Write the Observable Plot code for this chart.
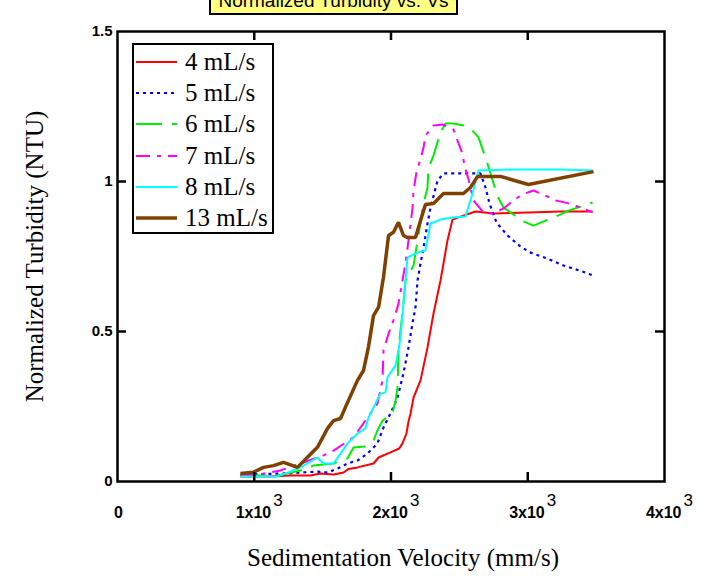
<!DOCTYPE html>
<html>
<head>
<meta charset="utf-8">
<script src="https://cdn.jsdelivr.net/npm/d3@7"></script>
<script src="https://cdn.jsdelivr.net/npm/@observablehq/plot@0.6"></script>
<style>
  html, body { margin: 0; padding: 0; background: #fff; }
  #wrap { position: relative; width: 718px; height: 585px; overflow: hidden; }
  #title { position: absolute; left: 209px; top: -9px; width: 245px; height: 22px;
    background: #ffff80; border: 2px solid #000; border-top: none;
    font: 19px "Liberation Sans", Arial, sans-serif; line-height: 19px; text-align: center; color: #000; white-space: nowrap; }
  #legend { position: absolute; left: 132px; top: 43px; width: 138px; height: 187px;
    border: 2px solid #000; background: #fff; }
  .row { position: absolute; left: 0; height: 30px; display: flex; align-items: center; }
  .row svg { margin-left: 2px; }
  .row span { margin-left: 7px; font: 25px "Liberation Serif", "Times New Roman", serif; color: #000; }
</style>
</head>
<body>
<div id="wrap">
  <div id="chart"></div>
  <div id="title">Normalized Turbidity vs. Vs</div>
  <div id="legend"></div>
</div>
<script>
const seriesNames = ["4 mL/s", "5 mL/s", "6 mL/s", "7 mL/s", "8 mL/s", "13 mL/s"];
const seriesColors = ["#ff0000", "#0000ff", "#00ee00", "#ff00ff", "#00ffff", "#804000"];
const seriesDash = [null, "3,4", "26,10", "14,7,4,7", null, null];
const seriesWidth = [2, 2.2, 2, 2, 2, 3.5];

const xTicks = [0, 1000, 2000, 3000, 4000];
const xTickBase = ["0", "1x10", "2x10", "3x10", "4x10"];
const xTickExp = ["", "3", "3", "3", "3"];
const yTicks = [0, 0.5, 1, 1.5];
const yTickLabels = ["0", "0.5", "1", "1.5"];

// [velocity mm/s, normalized turbidity]
const s4 = [[899,0.017],[1100,0.017],[1265,0.02],[1411,0.02],[1484,0.027],[1580,0.023],[1653,0.03],[1690,0.042],[1755,0.047],[1872,0.06],[1909,0.08],[1996,0.097],[2060,0.11],[2084,0.127],[2113,0.16],[2128,0.2],[2143,0.227],[2165,0.28],[2216,0.337],[2267,0.447],[2311,0.56],[2362,0.67],[2413,0.803],[2450,0.873],[2508,0.883],[2618,0.9],[2750,0.893],[3005,0.897],[3240,0.9],[3474,0.9]];
const s5 = [[899,0.023],[1243,0.027],[1462,0.033],[1536,0.03],[1609,0.043],[1682,0.06],[1755,0.07],[1828,0.093],[1901,0.127],[1945,0.18],[1996,0.227],[2048,0.28],[2091,0.36],[2128,0.447],[2157,0.527],[2179,0.58],[2194,0.67],[2216,0.727],[2238,0.78],[2267,0.86],[2289,0.913],[2340,1.003],[2384,1.027],[2654,1.027],[2691,0.98],[2720,0.927],[2772,0.863],[2852,0.82],[2947,0.783],[3020,0.763],[3144,0.743],[3261,0.72],[3400,0.7],[3474,0.687]];
const s6 = [[899,0.02],[1170,0.02],[1338,0.037],[1433,0.053],[1580,0.06],[1682,0.077],[1726,0.113],[1813,0.117],[1872,0.137],[1901,0.17],[1938,0.203],[2011,0.227],[2033,0.27],[2048,0.313],[2055,0.437],[2069,0.503],[2084,0.56],[2106,0.67],[2165,0.72],[2194,0.803],[2238,0.927],[2267,0.98],[2274,1.043],[2311,1.087],[2362,1.163],[2398,1.193],[2457,1.193],[2530,1.187],[2581,1.177],[2640,1.147],[2698,1.07],[2728,1.027],[2779,0.95],[2823,0.913],[2969,0.867],[3042,0.853],[3225,0.887],[3298,0.903],[3474,0.93]];
const s7 = [[899,0.02],[1050,0.025],[1192,0.037],[1338,0.06],[1506,0.087],[1580,0.103],[1726,0.147],[1850,0.227],[1901,0.26],[1938,0.337],[1945,0.437],[1982,0.493],[2018,0.537],[2055,0.593],[2084,0.67],[2106,0.727],[2128,0.803],[2157,0.91],[2165,0.97],[2186,1.03],[2223,1.087],[2238,1.113],[2252,1.153],[2311,1.187],[2377,1.19],[2457,1.173],[2494,1.127],[2523,1.093],[2537,1.053],[2567,1.007],[2603,0.937],[2676,0.897],[2742,0.893],[2823,0.91],[2896,0.937],[2962,0.957],[3042,0.97],[3144,0.95],[3203,0.937],[3298,0.927],[3408,0.91],[3474,0.897]];
const s8 = [[899,0.017],[1170,0.017],[1265,0.033],[1338,0.047],[1462,0.08],[1506,0.06],[1580,0.06],[1631,0.093],[1682,0.127],[1755,0.16],[1813,0.177],[1835,0.213],[1887,0.26],[1923,0.293],[1960,0.297],[1974,0.347],[2033,0.387],[2055,0.437],[2069,0.48],[2084,0.56],[2106,0.67],[2121,0.747],[2194,0.763],[2252,0.77],[2289,0.86],[2362,0.873],[2450,0.88],[2545,0.883],[2596,0.96],[2640,1.037],[2896,1.04],[3240,1.04],[3474,1.037]];
const s13 = [[899,0.027],[995,0.031],[1068,0.047],[1141,0.053],[1214,0.064],[1316,0.047],[1389,0.081],[1462,0.114],[1536,0.177],[1580,0.203],[1631,0.21],[1667,0.248],[1755,0.337],[1799,0.37],[1835,0.448],[1872,0.553],[1909,0.581],[1945,0.681],[1982,0.82],[2018,0.831],[2055,0.864],[2091,0.82],[2121,0.813],[2179,0.813],[2216,0.87],[2252,0.923],[2311,0.927],[2384,0.96],[2530,0.96],[2581,0.98],[2633,1.017],[2801,1.017],[3005,0.99],[3481,1.033]];

const allSeries = [s4, s5, s6, s7, s8, s13];

const W = 718, H = 585, mL = 117, mR = 54, mT = 31, mB = 104;
const fw = W - mL - mR, fh = H - mT - mB;

const lines = allSeries.map((s, i) => Plot.line(s, {
  x: d => d[0], y: d => d[1],
  stroke: seriesColors[i], strokeWidth: seriesWidth[i],
  strokeDasharray: seriesDash[i], strokeLinejoin: "miter", strokeLinecap: "butt"
}));

const inner = [1000, 2000, 3000];
const innerY = [0.5, 1];
const sans = "Liberation Sans, Arial, sans-serif";
const serif = "Liberation Serif, Times New Roman, serif";
const xIdx = xTicks.map((d, i) => i);

const chart = Plot.plot({
  width: W, height: H,
  marginLeft: mL, marginRight: mR, marginTop: mT, marginBottom: mB,
  style: { background: "#fff", overflow: "visible" },
  x: { domain: [0, 4000], axis: null },
  y: { domain: [0, 1.5] },
  marks: [
    ...lines,
    Plot.frame({ stroke: "#000", strokeWidth: 2.5 }),
    Plot.tickX(inner, { x: d => d, insetTop: fh - 9, stroke: "#000", strokeWidth: 2.5 }),
    Plot.tickX(inner, { x: d => d, insetBottom: fh - 9, stroke: "#000", strokeWidth: 2.5 }),
    Plot.tickY(innerY, { y: d => d, insetRight: fw - 9, stroke: "#000", strokeWidth: 2.5 }),
    Plot.tickY(innerY, { y: d => d, insetLeft: fw - 9, stroke: "#000", strokeWidth: 2.5 }),
    // x tick labels: base part (bold) and raised exponent
    Plot.text(xIdx.slice(0, 1), { x: i => xTicks[i], text: i => xTickBase[i], frameAnchor: "bottom",
      dy: 36, dx: 1, lineAnchor: "bottom", textAnchor: "middle",
      fontSize: 16, fontWeight: "bold", fontFamily: sans, fill: "#000" }),
    Plot.text(xIdx.slice(1), { x: i => xTicks[i], text: i => xTickBase[i], frameAnchor: "bottom",
      dy: 36, dx: 17, lineAnchor: "bottom", textAnchor: "end",
      fontSize: 16, fontWeight: "bold", fontFamily: sans, fill: "#000" }),
    Plot.text(xIdx.slice(1), { x: i => xTicks[i], text: i => xTickExp[i], frameAnchor: "bottom",
      dy: 24, dx: 19, lineAnchor: "bottom", textAnchor: "start",
      fontSize: 17, fontFamily: sans, fill: "#000" }),
    Plot.axisY({ ticks: yTicks, tickSize: 0, tickPadding: 5, label: null,
      tickFormat: d => yTickLabels[yTicks.indexOf(d)],
      fontSize: 15, fontWeight: "bold", fontFamily: sans, fill: "#000" }),
    Plot.text(["Sedimentation Velocity (mm/s)"], { frameAnchor: "bottom", dy: 76, dx: 12, lineAnchor: "middle",
      textAnchor: "middle", fontSize: 25, fontFamily: serif, fill: "#000" }),
    Plot.text(["Normalized Turbidity (NTU)"], { frameAnchor: "left", dx: -83, rotate: -90, lineAnchor: "middle",
      textAnchor: "middle", fontSize: 25, fontFamily: serif, fill: "#000" })
  ]
});
document.getElementById("chart").appendChild(chart);

// legend
const leg = document.getElementById("legend");
seriesNames.forEach((name, i) => {
  const row = document.createElement("div");
  row.className = "row";
  row.style.top = (2 + i * 31.2) + "px";
  const svg = d3.create("svg").attr("width", 42).attr("height", 10);
  svg.append("line").attr("x1", 0).attr("x2", 41).attr("y1", 5).attr("y2", 5)
    .attr("stroke", seriesColors[i]).attr("stroke-width", seriesWidth[i])
    .attr("stroke-dasharray", seriesDash[i]);
  row.appendChild(svg.node());
  const sp = document.createElement("span");
  sp.textContent = name;
  row.appendChild(sp);
  leg.appendChild(row);
});
</script>
</body>
</html>
